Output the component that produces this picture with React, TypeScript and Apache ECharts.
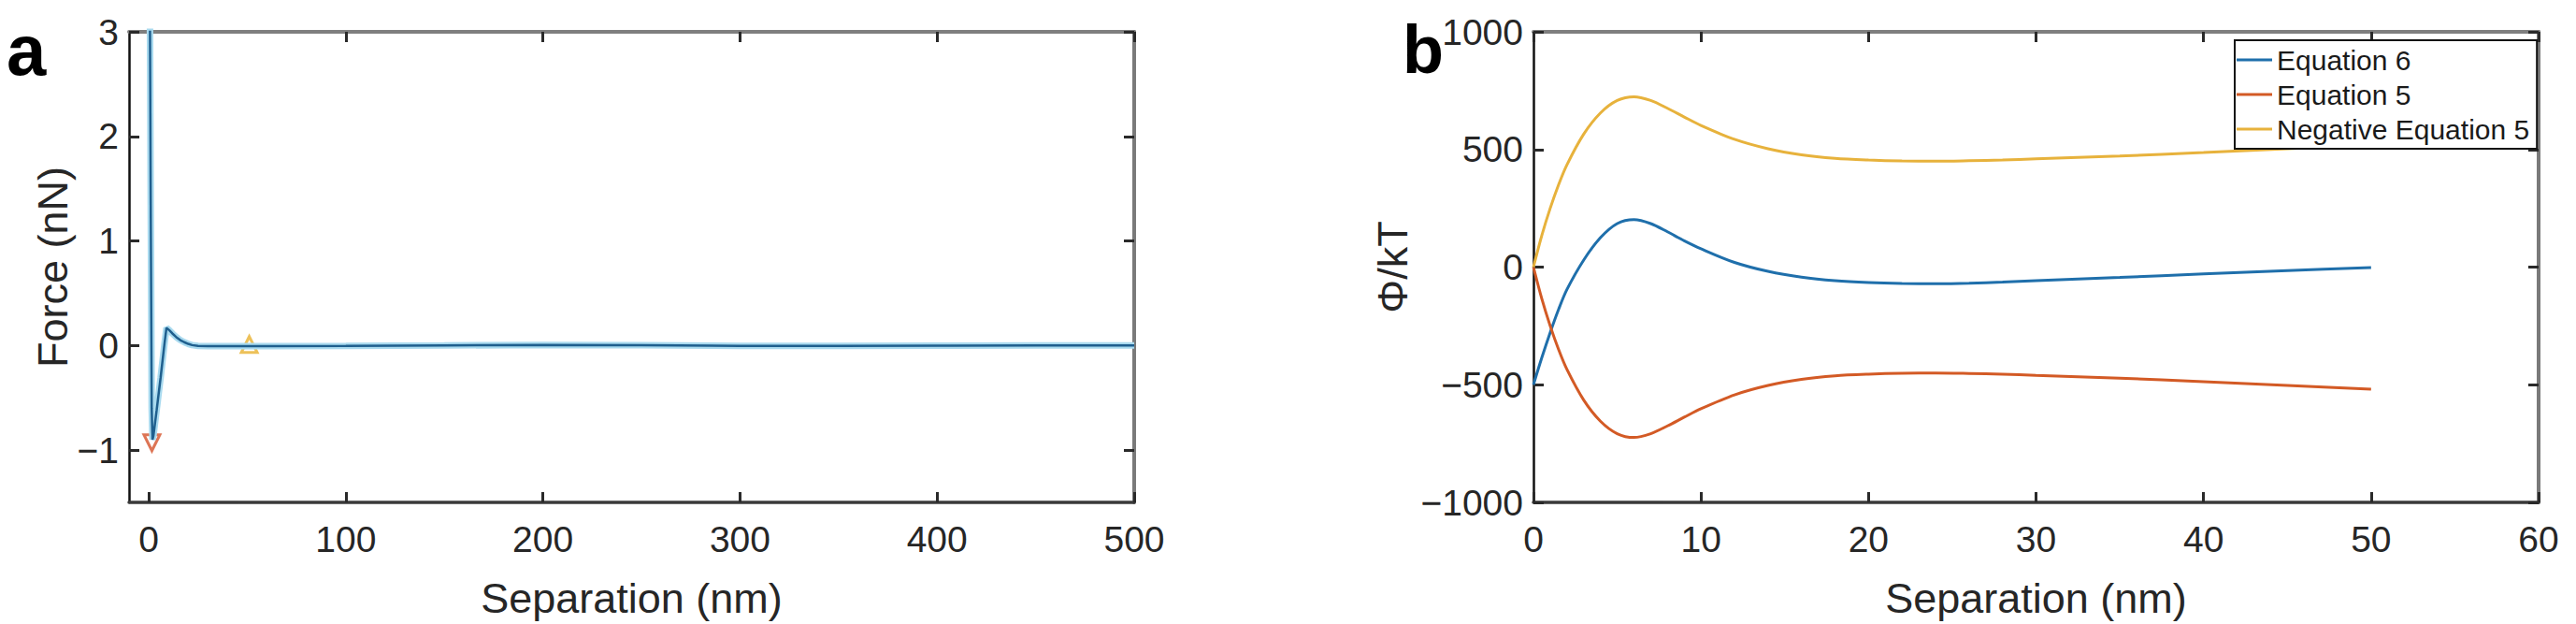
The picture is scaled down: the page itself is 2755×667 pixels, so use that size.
import React, { useEffect, useRef } from "react";
import * as echarts from "echarts";

// ---------- Panel a: force curve ----------
const forceSep = [0.5, 1.0, 1.5, 1.9, 2.4, 4.0, 6.0, 8.0, 9.0, 10.5, 12, 14, 16, 18, 20, 22, 25, 30, 40, 60, 100, 150, 200, 250, 300, 350, 400, 450, 500];
const forceVal = [3.6, 1.4, -0.6, -0.9, -0.86, -0.62, -0.31, 0.02, 0.17, 0.145, 0.115, 0.08, 0.052, 0.032, 0.016, 0.004, -0.004, -0.006, -0.006, -0.005, -0.004, 0.0, 0.006, 0.003, -0.003, -0.004, -0.002, 0, 0];
const minPoint = [[1.6, -0.93]];
const jumpPoint = [[51, 0.01]];
const xTicksA = [0, 100, 200, 300, 400, 500];
const yTicksA = [-1, 0, 1, 2, 3];

// ---------- Panel b: interaction potentials ----------
const sepB = [0, 0.5, 1, 1.5, 2, 3, 4, 5, 6, 7, 8, 9, 10, 12, 14, 16, 18, 20, 22, 24, 26, 28, 30, 35, 40, 45, 50];
const eq6 = [-500, -385, -278, -180, -95, 30, 125, 185, 202, 185, 150, 112, 78, 20, -18, -43, -58, -66, -70, -71, -69, -64, -58, -44, -29, -15, -2];
const eq5 = [0, -135, -250, -350, -435, -565, -655, -708, -724, -708, -675, -638, -602, -543, -503, -477, -462, -455, -451, -450, -452, -455, -460, -472, -487, -503, -519];
const negEq5 = [0, 135, 250, 350, 435, 565, 655, 708, 724, 708, 675, 638, 602, 543, 503, 477, 462, 455, 451, 450, 452, 455, 460, 472, 487, 503, 519];
const seriesNamesB = ["Equation 6", "Equation 5", "Negative Equation 5"];

const FONT = "'Liberation Sans', Arial, Helvetica, sans-serif";
const TXT = "#262626";
const fmt = (v: number) => (v < 0 ? "\u2212" + Math.abs(v) : String(v));

const zip = (xs: number[], ys: number[]) => xs.map((x, i) => [x, ys[i]]);

function mainX(gridIndex: number, min: number, max: number, ticks: number[] | null, interval?: number) {
  const tickExtra: any = ticks ? { customValues: ticks } : {};
  const o: any = {
    gridIndex,
    type: "value",
    min,
    max,
    position: "bottom",
    axisLine: { onZero: false, lineStyle: { color: "#3a3a3a", width: 3.5 } },
    axisTick: { inside: true, length: 11, lineStyle: { color: "#2a2a2a", width: 3 }, ...tickExtra },
    axisLabel: { fontSize: 39, color: TXT, fontFamily: FONT, margin: 20, formatter: fmt, ...tickExtra },
    splitLine: { show: false },
    name: "Separation (nm)",
    nameLocation: "middle",
    nameGap: 80,
    nameTextStyle: { fontSize: 45, color: TXT, fontFamily: FONT },
  };
  if (interval) o.interval = interval;
  return o;
}
function mirrorX(gridIndex: number, min: number, max: number, ticks: number[] | null, interval?: number) {
  const tickExtra: any = ticks ? { customValues: ticks } : {};
  const o: any = {
    gridIndex,
    type: "value",
    min,
    max,
    position: "top",
    axisLine: { onZero: false, lineStyle: { color: "#7f7f7f", width: 4 } },
    axisTick: { inside: true, length: 11, lineStyle: { color: "#2a2a2a", width: 3 }, ...tickExtra },
    axisLabel: { show: false },
    splitLine: { show: false },
  };
  if (interval) o.interval = interval;
  return o;
}
function mainY(gridIndex: number, min: number, max: number, ticks: number[] | null, name: string, nameGap: number, interval?: number) {
  const tickExtra: any = ticks ? { customValues: ticks } : {};
  const o: any = {
    gridIndex,
    type: "value",
    min,
    max,
    position: "left",
    axisLine: { onZero: false, lineStyle: { color: "#111111", width: 2.5 } },
    axisTick: { inside: true, length: 11, lineStyle: { color: "#2a2a2a", width: 3 }, ...tickExtra },
    axisLabel: { fontSize: 39, color: TXT, fontFamily: FONT, margin: 11, formatter: fmt, ...tickExtra },
    splitLine: { show: false },
    name,
    nameLocation: "middle",
    nameGap,
    nameRotate: 90,
    nameTextStyle: { fontSize: 45, color: TXT, fontFamily: FONT },
  };
  if (interval) o.interval = interval;
  return o;
}
function mirrorY(gridIndex: number, min: number, max: number, ticks: number[] | null, interval?: number) {
  const tickExtra: any = ticks ? { customValues: ticks } : {};
  const o: any = {
    gridIndex,
    type: "value",
    min,
    max,
    position: "right",
    axisLine: { onZero: false, lineStyle: { color: "#7a7a7a", width: 4 } },
    axisTick: { inside: true, length: 11, lineStyle: { color: "#2a2a2a", width: 3 }, ...tickExtra },
    axisLabel: { show: false },
    splitLine: { show: false },
  };
  if (interval) o.interval = interval;
  return o;
}

export default function App() {
  const ref = useRef<HTMLDivElement>(null);
  useEffect(() => {
    if (!ref.current) return;
    const chart = echarts.init(ref.current, undefined, { renderer: "svg" });
    const colorsB = ["#1f6fab", "#d35a25", "#e7b23c"];
    const dataB = [eq6, eq5, negEq5];
    chart.setOption({
      animation: false,
      backgroundColor: "#ffffff",
      textStyle: { fontFamily: FONT },
      grid: [
        { left: 138, top: 34, width: 1075, height: 503 },
        { left: 1640, top: 34, width: 1075, height: 503 },
      ],
      xAxis: [
        mainX(0, -10, 500, xTicksA),
        mirrorX(0, -10, 500, xTicksA),
        mainX(1, 0, 60, null, 10),
        mirrorX(1, 0, 60, null, 10),
      ],
      yAxis: [
        mainY(0, -1.5, 3, yTicksA, "Force (nN)", 54),
        mirrorY(0, -1.5, 3, yTicksA),
        mainY(1, -1000, 1000, null, "\u03A6/kT", 128, 500),
        mirrorY(1, -1000, 1000, null, 500),
      ],
      legend: {
        data: seriesNamesB,
        orient: "vertical",
        left: 2390,
        top: 43,
        icon: "rect",
        itemWidth: 38,
        itemHeight: 3,
        itemGap: 7,
        padding: [6, 8, 6, 2],
        backgroundColor: "#ffffff",
        borderColor: "#111111",
        borderWidth: 2,
        borderRadius: 0,
        textStyle: { fontSize: 30, color: "#1a1a1a", fontFamily: FONT },
        selectedMode: false,
      },
      graphic: [
        { type: "text", x: 7, y: 53, style: { text: "a", font: `bold 76px ${FONT}`, fill: "#000", verticalAlign: "middle" } },
        { type: "text", x: 1500, y: 53, style: { text: "b", font: `bold 72px ${FONT}`, fill: "#000", verticalAlign: "middle" } },
      ],
      series: [
        {
          type: "line",
          name: "force-glow",
          xAxisIndex: 0,
          yAxisIndex: 0,
          data: zip(forceSep, forceVal),
          symbol: "none",
          lineStyle: { color: "#a9daef", width: 7 },
          silent: true,
        },
        {
          type: "line",
          name: "force",
          xAxisIndex: 0,
          yAxisIndex: 0,
          data: zip(forceSep, forceVal),
          symbol: "none",
          lineStyle: { color: "#1f5f8e", width: 2.5 },
          silent: true,
        },
        {
          type: "scatter",
          name: "min",
          xAxisIndex: 0,
          yAxisIndex: 0,
          data: minPoint,
          symbol: "triangle",
          symbolRotate: 180,
          symbolSize: 17,
          itemStyle: { color: "#ffffff", borderColor: "#d4532a", borderWidth: 3 },
          silent: true,
        },
        {
          type: "scatter",
          name: "jump",
          xAxisIndex: 0,
          yAxisIndex: 0,
          data: jumpPoint,
          symbol: "triangle",
          symbolSize: 17,
          itemStyle: { color: "#ffffff", borderColor: "#e8b130", borderWidth: 3 },
          silent: true,
        },
        ...seriesNamesB.map((n, i) => ({
          type: "line",
          name: n,
          xAxisIndex: 2,
          yAxisIndex: 2,
          data: zip(sepB, dataB[i]),
          symbol: "none",
          smooth: 0.3,
          color: colorsB[i],
          lineStyle: { color: colorsB[i], width: 3 },
          silent: true,
        })),
      ],
    });
    return () => chart.dispose();
  }, []);
  return (
    <div
      ref={ref}
      style={{ position: "fixed", left: 0, top: 0, width: 2755, height: 667, background: "#fff" }}
    />
  );
}
